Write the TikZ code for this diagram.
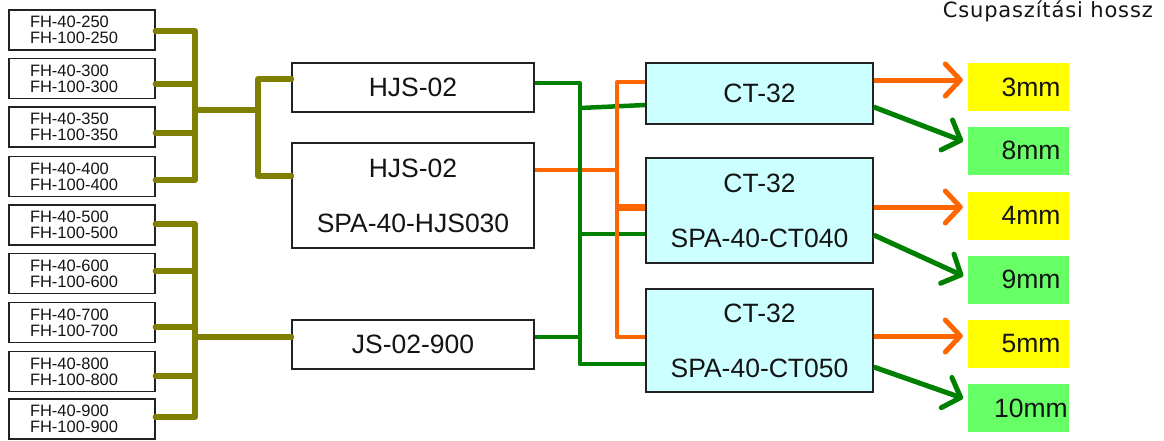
\documentclass[tikz,border=0pt]{standalone}
\usepackage{fontspec}
\setmainfont{Liberation Sans}
\newfontfamily\titlefont[LetterSpace=4]{DejaVu Sans}
\usetikzlibrary{arrows.meta}
\definecolor{olivec}{RGB}{128,128,0}
\definecolor{greenc}{RGB}{0,128,0}
\definecolor{orangec}{RGB}{255,102,0}
\definecolor{cyanc}{RGB}{204,255,255}
\definecolor{yell}{RGB}{255,255,0}
\definecolor{lgreen}{RGB}{102,255,102}
\definecolor{bord}{RGB}{34,34,34}
\definecolor{txt}{RGB}{20,20,20}
\begin{document}
\begin{tikzpicture}[x=1pt,y=-1pt,
  fhbox/.style={draw=bord, line width=1.3pt, minimum width=146pt, minimum height=40pt,
    inner xsep=21pt, inner ysep=0pt, text width=104pt, align=left, text=txt,
    font=\fontsize{16.5}{16}\selectfont},
  mainbox/.style={draw=bord, line width=1.5pt, inner sep=0pt, align=center, text=txt,
    font=\fontsize{26.5}{30}\selectfont},
  hjsbox/.style={mainbox, fill=white, minimum width=242pt},
  ctbox/.style={mainbox, fill=cyanc, minimum width=227pt},
  mmbox/.style={inner sep=0pt, minimum width=101pt, minimum height=48pt, text=txt,
    font=\fontsize{26.5}{30}\selectfont},
  ybox/.style={mmbox, fill=yell},
  gbox/.style={mmbox, fill=lgreen},
  olline/.style={draw=olivec, line width=6pt, line join=round, line cap=round},
  grline/.style={draw=greenc, line width=4.5pt, line join=round},
  orline/.style={draw=orangec, line width=4pt, line join=round},
  arr/.style={line width=5pt, -{Straight Barb[length=15pt,width=32pt,round]}, shorten >=5pt}
]
\useasboundingbox (0,0) rectangle (1164,440);

% left boxes
\node[fhbox] (b1) at (82,30)    {FH-40-250\\FH-100-250};
\node[fhbox] (b2) at (82,78.5)  {FH-40-300\\FH-100-300};
\node[fhbox] (b3) at (82,127)   {FH-40-350\\FH-100-350};
\node[fhbox] (b4) at (82,176.5) {FH-40-400\\FH-100-400};
\node[fhbox] (b5) at (82,225)   {FH-40-500\\FH-100-500};
\node[fhbox] (b6) at (82,273.5) {FH-40-600\\FH-100-600};
\node[fhbox] (b7) at (82,322.5) {FH-40-700\\FH-100-700};
\node[fhbox] (b8) at (82,371.5) {FH-40-800\\FH-100-800};
\node[fhbox] (b9) at (82,419)   {FH-40-900\\FH-100-900};

% middle boxes
\node[hjsbox, minimum height=49pt] (h1) at (413,87.5) {HJS-02};
\node[hjsbox, minimum height=105pt] (h2) at (413,195.5) {HJS-02\\[25pt]SPA-40-HJS030};
\node[hjsbox, minimum height=49pt] (js) at (413,344.5) {JS-02-900};

% CT boxes
\node[ctbox, minimum height=61pt] (c1) at (759.5,93.5) {CT-32};
\node[ctbox, minimum height=105pt] (c2) at (759.5,210.5) {CT-32\\[25pt]SPA-40-CT040};
\node[ctbox, minimum height=103pt] (c3) at (759.5,340.5) {CT-32\\[25pt]SPA-40-CT050};

% length boxes
\node[ybox] (y1) at (1018.5,87)    {\hspace*{25pt}3mm};
\node[gbox] (g1) at (1018.5,150.5) {\hspace*{25pt}8mm};
\node[ybox] (y2) at (1018.5,215.5) {\hspace*{25pt}4mm};
\node[gbox] (g2) at (1018.5,279.5) {\hspace*{25pt}9mm};
\node[ybox] (y3) at (1018.5,344)   {\hspace*{25pt}5mm};
\node[gbox] (g3) at (1018.5,408)   {\hspace*{25pt}10mm};

% title
\node[anchor=base east, inner sep=0pt, text=txt, font=\titlefont\fontsize{21}{21}\selectfont] (title) at (1153,17) {Csupaszítási hossz};

% junction coordinates
\coordinate (ja) at (195,110);
\coordinate (jb) at (258,110);
\coordinate (jc) at (195,337);
\coordinate (jg) at (580,83);
\coordinate (jo) at (617,82);

% olive connectors, group 1
\draw[olline] (b1.east |- 0,31) -- (ja |- 0,31) -- (ja |- 0,180) -- (b4.east |- 0,180);
\draw[olline] (b2.east |- 0,84) -- (ja |- 0,84);
\draw[olline] (b3.east |- 0,133) -- (ja |- 0,133);
\draw[olline] (ja) -- (jb);
\draw[olline] (h1.west |- 0,79) -- (jb |- 0,79) -- (jb |- 0,176) -- (h2.west |- 0,176);
% olive connectors, group 2
\draw[olline] (b5.east |- 0,224) -- (jc |- 0,224) -- (jc |- 0,417) -- (b9.east |- 0,417);
\draw[olline] (b6.east |- 0,271) -- (jc |- 0,271);
\draw[olline] (b7.east |- 0,327) -- (jc |- 0,327);
\draw[olline] (b8.east |- 0,376) -- (jc |- 0,376);
\draw[olline] (jc) -- (js.west |- jc);

% orange from HJS-02 / SPA-40-HJS030
\draw[orline] (h2.east |- 0,170) -- (jo |- 0,170);

% green connectors
\draw[grline] (h1.east |- jg) -- (jg) -- (jg |- 0,364) -- (c3.west |- 0,364);
\draw[grline] (jg |- 0,108) -- (c1.west |- 0,105);
\draw[grline] (jg |- 0,234) -- (c2.west |- 0,234);
\draw[grline] (js.east |- 0,337) -- (jg |- 0,337);

% orange distribution
\draw[orline] (c1.west |- jo) -- (jo) -- (jo |- 0,337) -- (c3.west |- 0,337);
\draw[orline, line width=7pt] (jo |- 0,207) -- (c2.west |- 0,207);

% output arrows
\draw[arr, orangec] (c1.east |- 0,80)  -- (y1.west |- 0,80);
\draw[arr, greenc]  (c1.east |- 0,107) -- (g1.west |- 0,143);
\draw[arr, orangec] (c2.east |- 0,207) -- (y2.west |- 0,207);
\draw[arr, greenc]  (c2.east |- 0,235) -- (g2.west |- 0,278);
\draw[arr, orangec] (c3.east |- 0,336) -- (y3.west |- 0,336);
\draw[arr, greenc]  (c3.east |- 0,367) -- (g3.west |- 0,400);
\end{tikzpicture}
\end{document}
